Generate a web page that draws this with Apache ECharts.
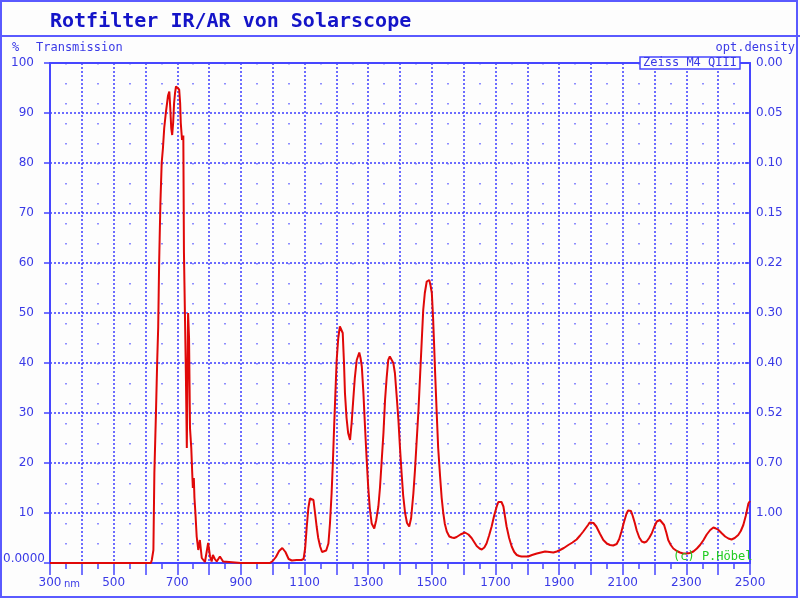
<!DOCTYPE html>
<html>
<head>
<meta charset="utf-8">
<script src="https://cdn.jsdelivr.net/npm/echarts@6/dist/echarts.min.js"></script>
<style>html,body{margin:0;padding:0;background:#fdfdfd}#c{width:800px;height:600px}</style>
</head>
<body>
<div id="c"></div>
<script>
// ---- data ----
const wavelengths = [300,400,500,600,617,620,625,628,633,637,640,643,647,651,655,659,664,668,671,675,678,681,684,687,690,693,696,701,706,709,711,715,719,721,724,727,730,734,737,740,744,747,749,752,754,757,761,766,771,777,787,797,803,808,812,818,824,834,844,850,900,950,991,1000,1010,1020,1030,1040,1050,1060,1075,1090,1097,1102,1107,1112,1117,1123,1128,1133,1138,1143,1149,1155,1161,1168,1175,1180,1185,1189,1193,1197,1201,1206,1211,1216,1220,1224,1227,1232,1237,1243,1248,1253,1258,1264,1272,1276,1280,1285,1290,1295,1300,1305,1311,1319,1325,1332,1337,1342,1348,1353,1358,1363,1368,1374,1379,1384,1390,1395,1400,1405,1410,1416,1422,1429,1435,1442,1447,1452,1458,1463,1468,1473,1478,1484,1492,1496,1500,1504,1507,1511,1515,1520,1526,1531,1536,1541,1547,1555,1563,1570,1578,1590,1604,1615,1625,1633,1641,1650,1657,1665,1672,1680,1688,1696,1704,1709,1714,1719,1725,1730,1735,1743,1751,1759,1767,1775,1782,1792,1803,1815,1830,1843,1856,1870,1882,1893,1903,1915,1929,1942,1955,1966,1976,1984,1991,1996,2001,2008,2017,2028,2039,2050,2060,2070,2081,2089,2096,2104,2112,2117,2121,2126,2131,2138,2144,2152,2160,2168,2175,2183,2191,2199,2207,2212,2217,2223,2230,2237,2243,2251,2259,2270,2280,2290,2301,2311,2322,2333,2343,2354,2364,2375,2385,2393,2401,2412,2422,2432,2442,2452,2463,2471,2479,2487,2495,2500];
const transmission = [0,0,0,0,0,0.6,2.6,18,30,40.6,47,60,72,80,83,87,90,92,93.5,94.3,91,87,85.6,88,92,94,95.3,95.2,94.7,92,88,84.6,85.5,62,50,38,23,50,45,27,23,18,15,17,13,10,5.3,2.6,4.6,1,0.2,4,1.3,0.3,1.6,0.8,0.3,1.3,0.3,0,0,0,0,0.4,1.2,2.4,3.0,2.2,0.8,0.5,0.6,0.6,0.8,3,7.3,11,12.9,13,12.6,10,7.3,5,3.3,2.2,1.8,2.5,3.9,8,13.9,20,27.3,34,40.6,45,47.3,47,46,40,34,29,26,24.6,28,32.6,37,40.6,42.1,41,39.3,34,27.3,21,15.3,11,7.9,6.9,8.5,11.3,15,20,26,32.6,37,40.6,41.3,41.3,40,38,33,28.6,23,18,13.5,10,8,7.3,9,13.9,18.5,24,30.5,37.3,44,50.6,54,56.3,56.6,55.5,54,49,44,37,30.6,23,17.3,13,10,7.8,6.3,5.3,5.1,5.0,5.2,5.7,6.1,5.7,5.0,4.2,3.4,2.9,2.7,3.1,3.9,5.5,7.3,9.5,11.3,12.2,12.5,12.2,11.3,9.3,7.3,5,3.3,2.2,1.6,1.4,1.3,1.3,1.3,1.6,1.9,2.1,2.3,2.2,2.1,2.3,2.6,3.0,3.6,4.1,4.7,5.5,6.3,7.0,7.6,8.1,8.4,8.0,7.3,5.9,4.6,3.9,3.6,3.5,3.8,4.8,6.3,8.2,9.9,10.5,10.8,10.4,9.5,8,6.5,5.1,4.3,4.1,4.3,5,5.9,7.2,8.3,8.6,8.6,8.3,7.6,6.1,4.6,3.6,2.9,2.4,2.1,1.9,1.9,2.0,2.3,2.9,3.6,4.6,5.7,6.6,7.1,6.9,6.6,5.9,5.3,4.9,4.7,5.0,5.6,6.4,7.6,9.5,11.9,12.4];
const xTickLabels = ['300','500','700','900','1100','1300','1500','1700','1900','2100','2300','2500'];
const yLeftLabels = ['', '10','20','30','40','50','60','70','80','90','100'];
const odLabels = ['', '1.00','0.70','0.52','0.40','0.30','0.22','0.15','0.10','0.05','0.00'];
const titleText = 'Rotfilter IR/AR von Solarscope';

const BLUE = '#4646ff';
const LBL = '#3a3ae6';
const seriesData = wavelengths.map((w, i) => [w, transmission[i]]);

const chart = echarts.init(document.getElementById('c'), null, {renderer: 'canvas'});
chart.setOption({
  backgroundColor: '#fdfdfd',
  animation: false,
  grid: {left: 50, right: 50, top: 63, bottom: 37},
  xAxis: [{
    type: 'value', min: 300, max: 2500, interval: 100, position: 'bottom',
    axisLine: {show: true, lineStyle: {color: BLUE, width: 2}},
    axisTick: {show: true, length: 12, lineStyle: {color: BLUE, width: 1.5}},
    minorTick: {show: true, splitNumber: 2, length: 6, lineStyle: {color: BLUE, width: 1.5}},
    splitLine: {show: true, lineStyle: {color: '#3c3cff', type: [2, 2], width: 1.5}},
    minorSplitLine: {show: true, lineStyle: {color: '#6a6aff', type: [1.5, 18.5], width: 1.5}},
    axisLabel: {
      margin: 14, color: LBL, fontFamily: 'DejaVu Sans', fontSize: 12,
      formatter: function (v) {
        const k = (v - 300) / 200;
        if (Math.abs(k - Math.round(k)) > 1e-6) return '';
        const t = xTickLabels[Math.round(k)];
        if (Math.round(k) === 0) return '{s|}{v|' + t + '}{u|nm}';
        return t;
      },
      rich: {
        s: {width: 19},
        v: {color: LBL, fontFamily: 'DejaVu Sans', fontSize: 12},
        u: {color: LBL, fontFamily: 'DejaVu Sans', fontSize: 10, width: 17, padding: [2, 0, 0, 2]}
      }
    }
  }, {
    type: 'value', min: 300, max: 2500, position: 'top',
    axisLine: {show: true, onZero: false, lineStyle: {color: BLUE, width: 2}},
    axisTick: {show: false}, axisLabel: {show: false}, splitLine: {show: false}
  }],
  yAxis: [{
    type: 'value', min: 0, max: 100, interval: 10, position: 'left',
    axisLine: {show: true, lineStyle: {color: BLUE, width: 2}},
    axisTick: {show: true, length: 6, lineStyle: {color: BLUE, width: 1.5}},
    splitLine: {show: true, lineStyle: {color: '#3c3cff', type: [2, 2], width: 1.5}},
    axisLabel: {
      margin: 16, color: LBL, fontFamily: 'DejaVu Sans', fontSize: 12,
      formatter: function (v) { return yLeftLabels[Math.round(v / 10)]; }
    }
  }, {
    type: 'value', min: 0, max: 100, interval: 10, position: 'right',
    axisLine: {show: true, lineStyle: {color: BLUE, width: 2}},
    axisTick: {show: true, inside: true, length: 5, lineStyle: {color: BLUE, width: 1.5}},
    splitLine: {show: false},
    axisLabel: {
      margin: 6, color: LBL, fontFamily: 'DejaVu Sans', fontSize: 12,
      formatter: function (v) { return odLabels[Math.round(v / 10)]; }
    }
  }],
  series: [{
    type: 'line', xAxisIndex: 0, yAxisIndex: 0,
    data: seriesData, showSymbol: false, symbol: 'none',
    lineStyle: {color: '#e00808', width: 2}, z: 5
  }],
  graphic: [
    {type: 'rect', z: 50, silent: true, shape: {x: 1, y: 1, width: 796, height: 596},
     style: {fill: null, stroke: '#5a5aff', lineWidth: 2}},
    {type: 'line', z: 50, silent: true, shape: {x1: 0, y1: 36, x2: 800, y2: 36},
     style: {stroke: '#5a5aff', lineWidth: 2}},
    {type: 'text', z: 60, silent: true,
     style: {text: titleText, x: 50, y: 22, textAlign: 'left', textVerticalAlign: 'middle',
             font: 'bold 20px "DejaVu Sans Mono"', fill: '#1414c8'}},
    {type: 'text', z: 60, silent: true,
     style: {text: '%', x: 12, y: 48, textAlign: 'left', textVerticalAlign: 'middle',
             font: '12px "DejaVu Sans Mono"', fill: LBL}},
    {type: 'text', z: 60, silent: true,
     style: {text: 'Transmission', x: 36, y: 48, textAlign: 'left', textVerticalAlign: 'middle',
             font: '12px "DejaVu Sans Mono"', fill: LBL}},
    {type: 'text', z: 60, silent: true,
     style: {text: 'opt.density', x: 795, y: 48, textAlign: 'right', textVerticalAlign: 'middle',
             font: '12px "DejaVu Sans Mono"', fill: LBL}},
    {type: 'rect', z: 60, silent: true, shape: {x: 640, y: 57, width: 100, height: 12},
     style: {fill: '#fdfdfd', stroke: BLUE, lineWidth: 1.5}},
    {type: 'text', z: 61, silent: true,
     style: {text: 'Zeiss M4 QIII', x: 690, y: 63, textAlign: 'center', textVerticalAlign: 'middle',
             font: '12px "DejaVu Sans Mono"', fill: LBL}},
    {type: 'text', z: 60, silent: true,
     style: {text: '0.0000', x: 3, y: 559, textAlign: 'left', textVerticalAlign: 'middle',
             font: '12px "DejaVu Sans"', fill: LBL}},
    {type: 'text', z: 60, silent: true,
     style: {text: '(c) P.Höbel', x: 673, y: 557, textAlign: 'left', textVerticalAlign: 'middle',
             font: '12px "DejaVu Sans Mono"', fill: '#22cc22'}}
  ]
});
</script>
</body>
</html>
